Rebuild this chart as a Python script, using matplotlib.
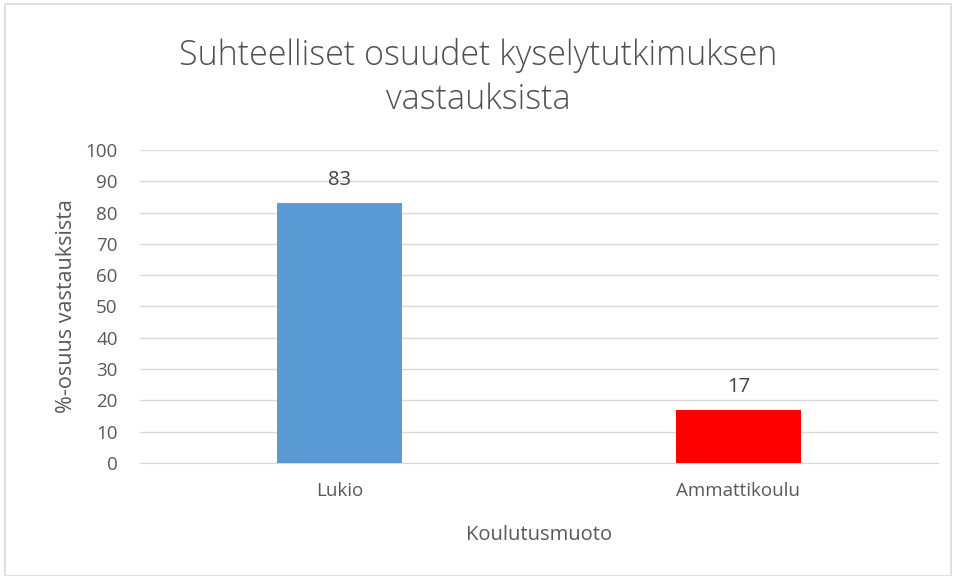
import matplotlib.pyplot as plt
from matplotlib.patches import Rectangle

# Data
categories = ['Lukio', 'Ammattikoulu']
values = [83, 17]
colors = ['#5B9BD5', '#FF0000']
yticks = [0, 10, 20, 30, 40, 50, 60, 70, 80, 90, 100]

plt.rcParams['font.family'] = ['Open Sans', 'DejaVu Sans']
txt = '#595959'

fig = plt.figure(figsize=(9.56, 5.76), dpi=100)
ax = fig.add_axes([0.1464, 0.1962, 0.8346, 0.5434])

x = range(len(categories))
bars = ax.bar(x, values, width=0.313, color=colors, zorder=3)
for b, v in zip(bars, values):
    ax.text(b.get_x() + b.get_width() / 2, v + 4.2, str(v), ha='center', va='bottom',
            fontsize=14.5, color='#404040')

ax.set_xlim(-0.5, 1.5)
ax.set_ylim(0, 100)
ax.set_yticks(yticks)
ax.set_xticks(list(x))
ax.set_xticklabels(categories)
ax.yaxis.grid(True, color='#D9D9D9', linewidth=1, zorder=0)
ax.tick_params(axis='both', length=0, labelsize=13.5, labelcolor=txt)
ax.tick_params(axis='x', pad=14)
ax.tick_params(axis='y', pad=16)
for s in ['top', 'right', 'left']:
    ax.spines[s].set_visible(False)
ax.spines['bottom'].set_color('#D9D9D9')

ax.set_xlabel('Koulutusmuoto', fontsize=14.5, color=txt, labelpad=18)
ax.set_ylabel('%-osuus vastauksista', fontsize=15.5, color=txt, labelpad=6)

fig.text(0.5, 0.866, 'Suhteelliset osuudet kyselytutkimuksen\nvastauksista', ha='center',
         va='center', fontsize=24.5, color='#505050', linespacing=1.35, fontweight='light')

fig.patches.append(Rectangle((0.005, 0.0), 0.99, 0.993, transform=fig.transFigure,
                             fill=False, edgecolor='#D9D9D9', linewidth=1.2))

plt.savefig('out.png')
